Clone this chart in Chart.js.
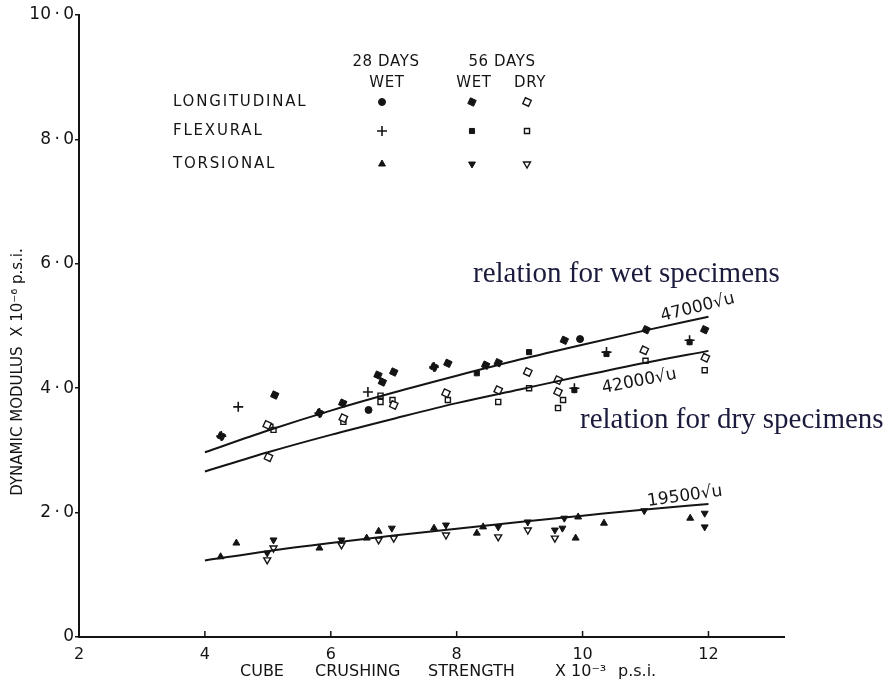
<!DOCTYPE html>
<html><head><meta charset="utf-8">
<script src="https://cdn.jsdelivr.net/npm/chart.js@4/dist/chart.umd.min.js"></script>
<style>html,body{margin:0;padding:0;background:#fff;}#wrap{width:895px;height:688px;position:relative;}</style>
</head><body><div id="wrap"><canvas id="c" width="895" height="688"></canvas></div>
<script>
// ---- tick labels ----
const xTickValues = [2, 4, 6, 8, 10, 12];
const xTickLabels = ['2', '4', '6', '8', '10', '12'];
const yTickValues = [0, 2, 4, 6, 8, 10];
const yTickLabels = ['0', '2\u2009·\u20090', '4\u2009·\u20090', '6\u2009·\u20090', '8\u2009·\u20090', '10\u2009·\u20090'];

// ---- axis titles ----
const xTitleWords = ['CUBE', 'CRUSHING', 'STRENGTH', 'X 10⁻³', 'p.s.i.'];
const yTitle = 'DYNAMIC MODULUS  X 10⁻⁶ p.s.i.';

// ---- fitted relations ----
const curveX    = [4, 5, 6, 7, 8, 9, 10, 11, 12];
const wetCurve  = [2.97, 3.32, 3.64, 3.93, 4.20, 4.46, 4.70, 4.93, 5.15];
const dryCurve  = [2.66, 2.97, 3.25, 3.51, 3.76, 3.98, 4.20, 4.41, 4.60];
const torsCurve = [1.23, 1.38, 1.51, 1.63, 1.74, 1.85, 1.95, 2.05, 2.14];

// ---- observations ----
const long28WetX = [6.60, 9.96];
const long28WetY = [3.65, 4.79];
const long56WetX = [4.26, 5.11, 5.82, 6.19, 6.75, 6.82, 7.00, 7.64, 7.86, 8.46, 8.66, 9.71, 11.01, 11.94];
const long56WetY = [3.23, 3.89, 3.60, 3.76, 4.21, 4.10, 4.26, 4.34, 4.40, 4.37, 4.41, 4.77, 4.94, 4.94];
const long56DryX = [4.99, 5.01, 6.20, 7.00, 7.83, 8.66, 9.13, 9.61, 9.61, 10.98, 11.95];
const long56DryY = [3.41, 2.89, 3.52, 3.73, 3.92, 3.97, 4.26, 3.94, 4.13, 4.61, 4.49];
const flex28WetX = [4.26, 4.53, 5.82, 6.59, 7.64, 9.87, 10.38, 11.70];
const flex28WetY = [3.23, 3.70, 3.60, 3.94, 4.34, 4.00, 4.58, 4.77];
const flex56WetX = [8.32, 9.15, 9.87, 10.38, 11.70];
const flex56WetY = [4.24, 4.58, 3.97, 4.55, 4.74];
const flex56DryX = [5.04, 5.09, 6.20, 6.79, 6.79, 6.98, 7.86, 8.66, 9.15, 9.61, 9.69, 11.00, 11.94];
const flex56DryY = [3.38, 3.33, 3.46, 3.88, 3.78, 3.81, 3.81, 3.78, 4.00, 3.68, 3.81, 4.44, 4.29];
const tors28WetX = [4.25, 4.50, 5.82, 6.57, 6.76, 7.64, 8.32, 8.42, 9.89, 9.93, 10.34, 11.71];
const tors28WetY = [1.29, 1.51, 1.43, 1.59, 1.70, 1.75, 1.67, 1.77, 1.59, 1.93, 1.83, 1.91];
const tors56WetX = [4.99, 5.09, 6.17, 6.97, 7.83, 8.66, 9.13, 9.56, 9.68, 9.71, 10.98, 11.94, 11.94];
const tors56WetY = [1.35, 1.56, 1.56, 1.75, 1.80, 1.77, 1.85, 1.72, 1.75, 1.91, 2.03, 1.99, 1.77];
const tors56DryX = [4.99, 5.09, 6.17, 6.76, 7.00, 7.83, 8.66, 9.13, 9.56];
const tors56DryY = [1.24, 1.43, 1.48, 1.56, 1.59, 1.64, 1.61, 1.72, 1.59];

const pts = (xs, ys) => xs.map((x, i) => ({x: x, y: ys[i]}));
const INK = '#141414';

const styles = {
  long28Wet: {pointStyle: 'circle', radius: 3.5, rotation: 0, fill: INK, borderWidth: 1},
  long56Wet: {pointStyle: 'rectRot', radius: 4.5, rotation: -20, fill: INK, borderWidth: 1},
  long56Dry: {pointStyle: 'rectRot', radius: 4.5, rotation: -20, fill: '#fff', borderWidth: 1.4},
  flex28Wet: {pointStyle: 'cross', radius: 5, rotation: 0, fill: INK, borderWidth: 1.6},
  flex56Wet: {pointStyle: 'rect', radius: 3.6, rotation: 0, fill: INK, borderWidth: 1},
  flex56Dry: {pointStyle: 'rect', radius: 3.6, rotation: 0, fill: '#fff', borderWidth: 1.4},
  tors28Wet: {pointStyle: 'triangle', radius: 4, rotation: 0, fill: INK, borderWidth: 1},
  tors56Wet: {pointStyle: 'triangle', radius: 4, rotation: 180, fill: INK, borderWidth: 1},
  tors56Dry: {pointStyle: 'triangle', radius: 4, rotation: 180, fill: '#fff', borderWidth: 1.4}
};

function pointSet(label, key, xs, ys) {
  const s = styles[key];
  return {label: label, data: pts(xs, ys), showLine: false,
    pointStyle: s.pointStyle, pointRadius: s.radius, pointRotation: s.rotation,
    pointBackgroundColor: s.fill, pointBorderColor: INK, pointBorderWidth: s.borderWidth,
    pointHoverRadius: s.radius};
}
function curveSet(label, ys) {
  return {label: label, data: pts(curveX, ys), showLine: true, pointRadius: 0,
    borderColor: INK, borderWidth: 2, tension: 0.4, cubicInterpolationMode: 'monotone', fill: false};
}

const annot = {
  id: 'annot',
  afterDraw(chart) {
    const ctx = chart.ctx;
    const xs = chart.scales.x;
    const ys = chart.scales.y;
    ctx.save();
    // inside x ticks
    ctx.strokeStyle = INK; ctx.lineWidth = 1.5;
    xTickValues.forEach(v => {
      const px = xs.getPixelForValue(v);
      ctx.beginPath(); ctx.moveTo(px, ys.bottom); ctx.lineTo(px, ys.bottom - 6); ctx.stroke();
    });
    // axis titles
    ctx.fillStyle = INK;
    ctx.font = '16px "DejaVu Sans"';
    ctx.textBaseline = 'middle';
    ctx.textAlign = 'left';
    const wx = [240, 315, 428, 555, 618];
    xTitleWords.forEach((w, i) => ctx.fillText(w, wx[i], 672));
    ctx.save();
    ctx.translate(18, 372);
    ctx.rotate(-Math.PI / 2);
    ctx.textAlign = 'center';
    ctx.font = '15px "DejaVu Sans"';
    ctx.fillText(yTitle, 0, 0);
    ctx.restore();
    // legend grid
    ctx.font = '15px "DejaVu Sans"';
    ctx.textAlign = 'center';
    ctx.letterSpacing = '0.6px';
    ctx.fillText('28 DAYS', 386, 62);
    ctx.fillText('WET', 387, 83);
    ctx.fillText('56 DAYS', 502, 62);
    ctx.fillText('WET', 474, 83);
    ctx.fillText('DRY', 530, 83);
    ctx.textAlign = 'left';
    ctx.letterSpacing = '1.8px';
    const rows = [['LONGITUDINAL', 102, ['long28Wet', 'long56Wet', 'long56Dry']],
                  ['FLEXURAL', 131, ['flex28Wet', 'flex56Wet', 'flex56Dry']],
                  ['TORSIONAL', 164, ['tors28Wet', 'tors56Wet', 'tors56Dry']]];
    const cols = [382, 472, 527];
    rows.forEach(r => {
      ctx.fillStyle = INK;
      ctx.fillText(r[0], 173, r[1]);
      r[2].forEach((k, i) => {
        const s = styles[k];
        ctx.fillStyle = s.fill; ctx.strokeStyle = INK; ctx.lineWidth = s.borderWidth;
        Chart.helpers.drawPoint(ctx, {pointStyle: s.pointStyle, rotation: s.rotation,
          radius: s.radius, borderWidth: s.borderWidth}, cols[i], r[1]);
      });
    });
    ctx.letterSpacing = '0px';
    // relation notes
    ctx.fillStyle = '#1b1b3d';
    ctx.font = '29px "Liberation Serif"';
    ctx.textAlign = 'left';
    ctx.textBaseline = 'alphabetic';
    ctx.fillText('relation for wet specimens', 473, 282);
    ctx.fillText('relation for dry specimens', 580, 428);
    // curve labels
    ctx.fillStyle = INK;
    ctx.font = '17px "DejaVu Sans"';
    const lab = (t, x, y, a) => { ctx.save(); ctx.translate(x, y); ctx.rotate(-a * Math.PI / 180); ctx.fillText(t, 0, 0); ctx.restore(); };
    lab('47000√u', 662, 321, 14);
    lab('42000√u', 603, 393, 11);
    lab('19500√u', 648, 506, 8);
    ctx.restore();
  }
};

new Chart(document.getElementById('c'), {
  type: 'scatter',
  data: {datasets: [
    curveSet('47000√u', wetCurve),
    curveSet('42000√u', dryCurve),
    curveSet('19500√u', torsCurve),
    pointSet('Longitudinal 28 days wet', 'long28Wet', long28WetX, long28WetY),
    pointSet('Longitudinal 56 days wet', 'long56Wet', long56WetX, long56WetY),
    pointSet('Longitudinal 56 days dry', 'long56Dry', long56DryX, long56DryY),
    pointSet('Flexural 28 days wet', 'flex28Wet', flex28WetX, flex28WetY),
    pointSet('Flexural 56 days wet', 'flex56Wet', flex56WetX, flex56WetY),
    pointSet('Flexural 56 days dry', 'flex56Dry', flex56DryX, flex56DryY),
    pointSet('Torsional 28 days wet', 'tors28Wet', tors28WetX, tors28WetY),
    pointSet('Torsional 56 days wet', 'tors56Wet', tors56WetX, tors56WetY),
    pointSet('Torsional 56 days dry', 'tors56Dry', tors56DryX, tors56DryY)
  ]},
  options: {
    responsive: false, animation: false, devicePixelRatio: 1,
    layout: {padding: {left: 0, top: 15, right: 111, bottom: 0}},
    plugins: {legend: {display: false}, tooltip: {enabled: false}},
    scales: {
      x: {type: 'linear', min: 2, max: 13.2,
        afterBuildTicks: s => { s.ticks = xTickValues.map(v => ({value: v})); },
        afterFit: s => { s.height = 51; },
        grid: {display: false},
        border: {display: true, color: INK, width: 2},
        ticks: {padding: 0, color: INK, font: {family: 'DejaVu Sans', size: 16}, maxRotation: 0,
          callback: v => xTickLabels[xTickValues.indexOf(v)]},
        title: {display: false}
      },
      y: {type: 'linear', min: 0, max: 10,
        afterBuildTicks: s => { s.ticks = yTickValues.map(v => ({value: v})); },
        afterFit: s => { s.width = 79; },
        grid: {display: true, drawOnChartArea: false, drawTicks: true, tickLength: 4, color: INK, lineWidth: 1.5},
        border: {display: true, color: INK, width: 2},
        ticks: {padding: 1, color: INK, font: {family: 'DejaVu Sans', size: 17},
          callback: v => yTickLabels[yTickValues.indexOf(v)]},
        title: {display: false}
      }
    }
  },
  plugins: [annot]
});
</script></body></html>
